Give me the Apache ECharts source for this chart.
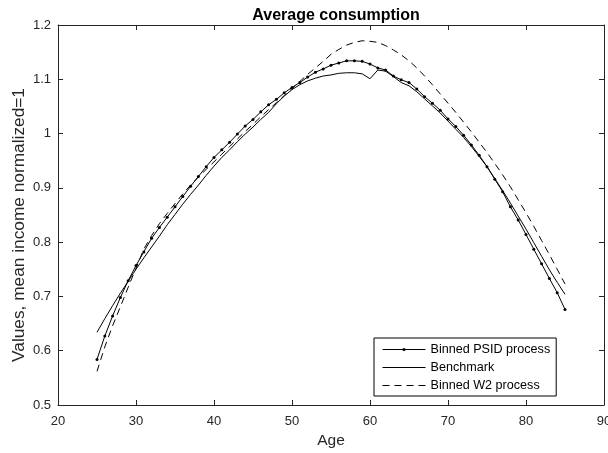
<!DOCTYPE html>
<html>
<head>
<meta charset="utf-8">
<script src="https://cdn.jsdelivr.net/npm/echarts@6/dist/echarts.min.js"></script>
<style>
  html, body { margin: 0; padding: 0; background: #fff; }
  #graphics { width: 608px; height: 453px; }
</style>
</head>
<body>
<div id="graphics"></div>
<script>
// ages 25..85
const ages = [25, 26, 27, 28, 29, 30, 31, 32, 33, 34, 35, 36, 37, 38, 39, 40, 41, 42, 43, 44, 45,
  46, 47, 48, 49, 50, 51, 52, 53, 54, 55, 56, 57, 58, 59, 60, 61, 62, 63, 64, 65,
  66, 67, 68, 69, 70, 71, 72, 73, 74, 75, 76, 77, 78, 79, 80, 81, 82, 83, 84, 85];

const psid = [0.584, 0.627, 0.664, 0.698, 0.729, 0.757, 0.782, 0.807, 0.827, 0.846, 0.865,
  0.884, 0.903, 0.921, 0.939, 0.956, 0.970, 0.984, 0.999, 1.014, 1.026,
  1.040, 1.053, 1.063, 1.075, 1.085, 1.094, 1.104, 1.113, 1.119, 1.126,
  1.130, 1.134, 1.134, 1.133, 1.128, 1.121, 1.117, 1.106, 1.099, 1.094,
  1.082, 1.068, 1.056, 1.043, 1.027, 1.013, 0.997, 0.979, 0.960, 0.939,
  0.916, 0.893, 0.865, 0.841, 0.814, 0.787, 0.760, 0.733, 0.707, 0.676];

const benchmark = [0.634, 0.659, 0.683, 0.706, 0.728, 0.750, 0.771, 0.791, 0.811, 0.832, 0.851,
  0.870, 0.888, 0.905, 0.923, 0.940, 0.956, 0.970, 0.985, 0.999, 1.012,
  1.026, 1.039, 1.055, 1.069, 1.081, 1.090, 1.097, 1.102, 1.106, 1.108,
  1.111, 1.112, 1.112, 1.110, 1.101, 1.117, 1.115, 1.105, 1.094, 1.088,
  1.077, 1.064, 1.051, 1.038, 1.023, 1.008, 0.993, 0.976, 0.958, 0.939,
  0.917, 0.895, 0.872, 0.848, 0.824, 0.799, 0.774, 0.749, 0.726, 0.704];

const w2 = [0.562, 0.607, 0.646, 0.681, 0.717, 0.752, 0.787, 0.812, 0.834, 0.853, 0.871,
  0.889, 0.905, 0.920, 0.934, 0.948, 0.962, 0.976, 0.990, 1.004, 1.017,
  1.031, 1.044, 1.057, 1.070, 1.083, 1.096, 1.109, 1.121, 1.133, 1.146,
  1.155, 1.163, 1.168, 1.171, 1.170, 1.168, 1.162, 1.154, 1.145, 1.134,
  1.121, 1.106, 1.090, 1.073, 1.056, 1.039, 1.021, 1.003, 0.984, 0.965,
  0.945, 0.924, 0.902, 0.878, 0.854, 0.829, 0.803, 0.777, 0.750, 0.723];

const seriesNames = ['Binned PSID process', 'Benchmark', 'Binned W2 process'];

function pairs(vals) {
  return ages.map(function (a, i) { return [a, vals[i]]; });
}

var myChart = echarts.init(document.getElementById('graphics'));

var font = 'Liberation Sans, Arial, sans-serif';
var tickColor = '#262626';

var option = {
  animation: false,
  title: {
    text: 'Average consumption',
    left: 331,
    textAlign: 'center',
    top: 3,
    textStyle: { fontFamily: font, fontSize: 16, fontWeight: 'bold', color: '#000' }
  },
  // the "90" label runs off the right edge in the original, so don't shrink the grid
  grid: { left: 58, right: 4, top: 25, bottom: 48, containLabel: false, outerBoundsMode: 'none' },
  legend: {
    orient: 'vertical',
    left: 374,
    top: 338,
    itemWidth: 43,
    itemHeight: 4,
    itemGap: 5,
    padding: [5, 6, 4, 8],
    backgroundColor: '#fff',
    borderColor: '#000',
    borderWidth: 1,
    lineStyle: { width: 1 },
    textStyle: { fontFamily: font, fontSize: 12.6, color: '#000' },
    // only the PSID entry keeps its dot marker
    data: [
      { name: seriesNames[0] },
      { name: seriesNames[1], itemStyle: { opacity: 0 } },
      { name: seriesNames[2], itemStyle: { opacity: 0 } }
    ]
  },
  xAxis: [{
    type: 'value',
    min: 20, max: 90, interval: 10,
    name: 'Age',
    nameLocation: 'middle',
    nameGap: 28,
    nameTextStyle: { fontFamily: font, fontSize: 15.5, color: tickColor },
    axisLine: { show: true, lineStyle: { color: tickColor, width: 1 } },
    axisTick: { show: true, inside: true, length: 5, lineStyle: { color: tickColor } },
    axisLabel: { fontFamily: font, fontSize: 13, color: tickColor, margin: 10 },
    splitLine: { show: false }
  }, {
    type: 'value',
    position: 'top',
    min: 20, max: 90, interval: 10,
    axisLine: { show: true, lineStyle: { color: tickColor, width: 1 } },
    axisTick: { show: true, inside: true, length: 5, lineStyle: { color: tickColor } },
    axisLabel: { show: false },
    splitLine: { show: false }
  }],
  yAxis: [{
    type: 'value',
    min: 0.5, max: 1.2, interval: 0.1,
    name: 'Values, mean income normalized=1',
    nameLocation: 'middle',
    nameGap: 30,
    nameMoveOverlap: false,
    // sits a little below the axis centre in the original
    nameTextStyle: { fontFamily: font, fontSize: 17.3, color: tickColor, padding: [0, 20, 0, 0] },
    axisLine: { show: true, lineStyle: { color: tickColor, width: 1 } },
    axisTick: { show: true, inside: true, length: 5, lineStyle: { color: tickColor } },
    axisLabel: {
      fontFamily: font, fontSize: 13, color: tickColor, margin: 7,
      formatter: function (v) { return String(Math.round(v * 10) / 10); }
    },
    splitLine: { show: false }
  }, {
    type: 'value',
    position: 'right',
    min: 0.5, max: 1.2, interval: 0.1,
    axisLine: { show: true, lineStyle: { color: tickColor, width: 1 } },
    axisTick: { show: true, inside: true, length: 5, lineStyle: { color: tickColor } },
    axisLabel: { show: false },
    splitLine: { show: false }
  }],
  series: [{
    name: seriesNames[0],
    type: 'line',
    data: pairs(psid),
    symbol: 'circle',
    symbolSize: 3,
    itemStyle: { color: '#000' },
    lineStyle: { color: '#000', width: 1 }
  }, {
    name: seriesNames[1],
    type: 'line',
    data: pairs(benchmark),
    showSymbol: false,
    symbol: 'none',
    itemStyle: { color: '#000' },
    lineStyle: { color: '#000', width: 1 }
  }, {
    name: seriesNames[2],
    type: 'line',
    data: pairs(w2),
    showSymbol: false,
    symbol: 'none',
    itemStyle: { color: '#000' },
    lineStyle: { color: '#000', width: 1, type: [7, 5] }
  }]
};

myChart.setOption(option);
</script>
</body>
</html>
